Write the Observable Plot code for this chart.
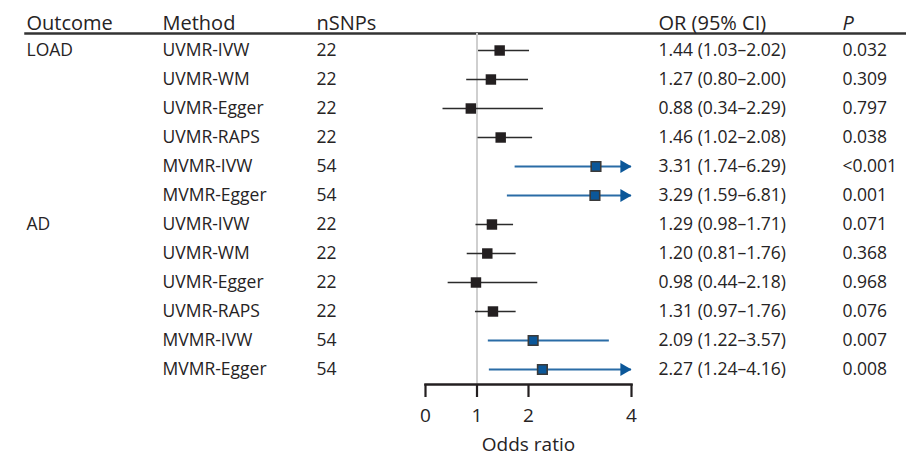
<!DOCTYPE html>
<html>
<head>
<meta charset="utf-8">
<script src="https://cdn.jsdelivr.net/npm/d3@7"></script>
<script src="https://cdn.jsdelivr.net/npm/@observablehq/plot@0.6"></script>
<style>
  html, body { margin: 0; padding: 0; background: #fff; }
  #chart { width: 906px; height: 457px; }
</style>
</head>
<body>
<div id="chart"></div>
<script>
// ---- data ----
const outcomes = ["LOAD", "", "", "", "", "", "AD", "", "", "", "", ""];
const methods = ["UVMR-IVW", "UVMR-WM", "UVMR-Egger", "UVMR-RAPS", "MVMR-IVW", "MVMR-Egger",
                 "UVMR-IVW", "UVMR-WM", "UVMR-Egger", "UVMR-RAPS", "MVMR-IVW", "MVMR-Egger"];
const nSNPs = [22, 22, 22, 22, 54, 54, 22, 22, 22, 22, 54, 54];
const orValues = [1.44, 1.27, 0.88, 1.46, 3.31, 3.29, 1.29, 1.20, 0.98, 1.31, 2.09, 2.27];
const ciLow = [1.03, 0.80, 0.34, 1.02, 1.74, 1.59, 0.98, 0.81, 0.44, 0.97, 1.22, 1.24];
const ciHigh = [2.02, 2.00, 2.29, 2.08, 6.29, 6.81, 1.71, 1.76, 2.18, 1.76, 3.57, 4.16];
const pValues = ["0.032", "0.309", "0.797", "0.038", "<0.001", "0.001",
                 "0.071", "0.368", "0.968", "0.076", "0.007", "0.008"];
const headers = ["Outcome", "Method", "nSNPs", "OR (95% CI)", "P"];
const xTicks = [0, 1, 2, 4];
const xMax = 4;

// ---- table ----
const rows = methods.map((m, i) => ({
  i,
  outcome: outcomes[i],
  method: m,
  n: String(nSNPs[i]),
  or: orValues[i],
  lo: ciLow[i],
  hi: ciHigh[i],
  hiClip: Math.min(ciHigh[i], xMax),
  arrow: ciHigh[i] > xMax,
  mv: m.startsWith("MVMR"),
  ci: `${orValues[i].toFixed(2)} (${ciLow[i].toFixed(2)}\u2013${ciHigh[i].toFixed(2)})`,
  p: pValues[i]
}));

// ---- layout / style ----
const FONT = "'Open Sans', sans-serif";
const FS = 17.5;
const FS_HEAD = 20;
const FS_AXIS = 19;
const TEXT = "#262324";
const BLUE_LINE = "#2a6ca6";
const BLUE_FILL = "#0b5799";
const colDx = { outcome: -399, method: -263, n: -109, ci: 233, p: 417 };

const uv = rows.filter(d => !d.mv);
const mv = rows.filter(d => d.mv);

const textCol = (key, dx) => Plot.text(rows, {
  y: "i", text: key, frameAnchor: "left", dx, textAnchor: "start",
  fill: TEXT, fontSize: FS, fontFamily: FONT
});
const headerCol = (label, dx, italic) => Plot.text([label], {
  text: d => d, frameAnchor: "top-left", dx, dy: -4, lineAnchor: "bottom",
  textAnchor: "start", fill: TEXT, fontSize: FS_HEAD, fontFamily: FONT,
  fontStyle: italic ? "italic" : "normal"
});

const plot = Plot.plot({
  width: 906,
  height: 457,
  marginLeft: 425,
  marginRight: 275,
  marginTop: 33,
  marginBottom: 73,
  style: { fontFamily: FONT, fontSize: FS_AXIS + "px", color: TEXT, background: "#fff" },
  x: { domain: [0, xMax] },
  y: { type: "point", domain: rows.map(d => d.i), padding: 0, insetTop: 16.5, insetBottom: 15, axis: null },
  marks: [
    // header rule
    Plot.frame({ anchor: "top", stroke: "#333", strokeWidth: 2.5, insetLeft: -400, insetRight: -275 }),
    // reference line at OR = 1
    Plot.ruleX([1], { stroke: "#cfcfcf", strokeWidth: 2 }),
    // CI lines
    Plot.ruleY(uv, { y: "i", x1: "lo", x2: "hiClip", stroke: "#2b2b2b", strokeWidth: 1.6 }),
    Plot.ruleY(mv, { y: "i", x1: "lo", x2: "hiClip", stroke: BLUE_LINE, strokeWidth: 2 }),
    // arrow heads for truncated CIs
    Plot.dot(rows.filter(d => d.arrow), {
      x: "hiClip", y: "i", symbol: "triangle", rotate: 90, r: 4.8, dx: -7.4,
      fill: BLUE_FILL, stroke: "none"
    }),
    // point estimates
    Plot.dot(uv, { x: "or", y: "i", symbol: "square", r: 5.9, fill: "#231f20", stroke: "none" }),
    Plot.dot(mv, { x: "or", y: "i", symbol: "square", r: 5.4, fill: BLUE_FILL, stroke: "#3a3a3a", strokeWidth: 1.6 }),
    // x axis
    Plot.frame({ anchor: "bottom", stroke: "#231f20", strokeWidth: 2.5 }),
    Plot.axisX({
      ticks: xTicks, tickSize: 13, tickPadding: 11, strokeWidth: 2.2, stroke: "#231f20",
      fontSize: FS_AXIS, label: "Odds ratio", labelAnchor: "center", labelArrow: "none",
      labelOffset: 66, tickFormat: d => String(d), color: TEXT
    }),
    // table columns
    textCol("outcome", colDx.outcome),
    textCol("method", colDx.method),
    textCol("n", colDx.n),
    textCol("ci", colDx.ci),
    textCol("p", colDx.p),
    // headers
    headerCol(headers[0], colDx.outcome, false),
    headerCol(headers[1], colDx.method, false),
    headerCol(headers[2], colDx.n, false),
    headerCol(headers[3], colDx.ci, false),
    headerCol(headers[4], colDx.p, true)
  ]
});
document.getElementById("chart").appendChild(plot);
</script>
</body>
</html>
